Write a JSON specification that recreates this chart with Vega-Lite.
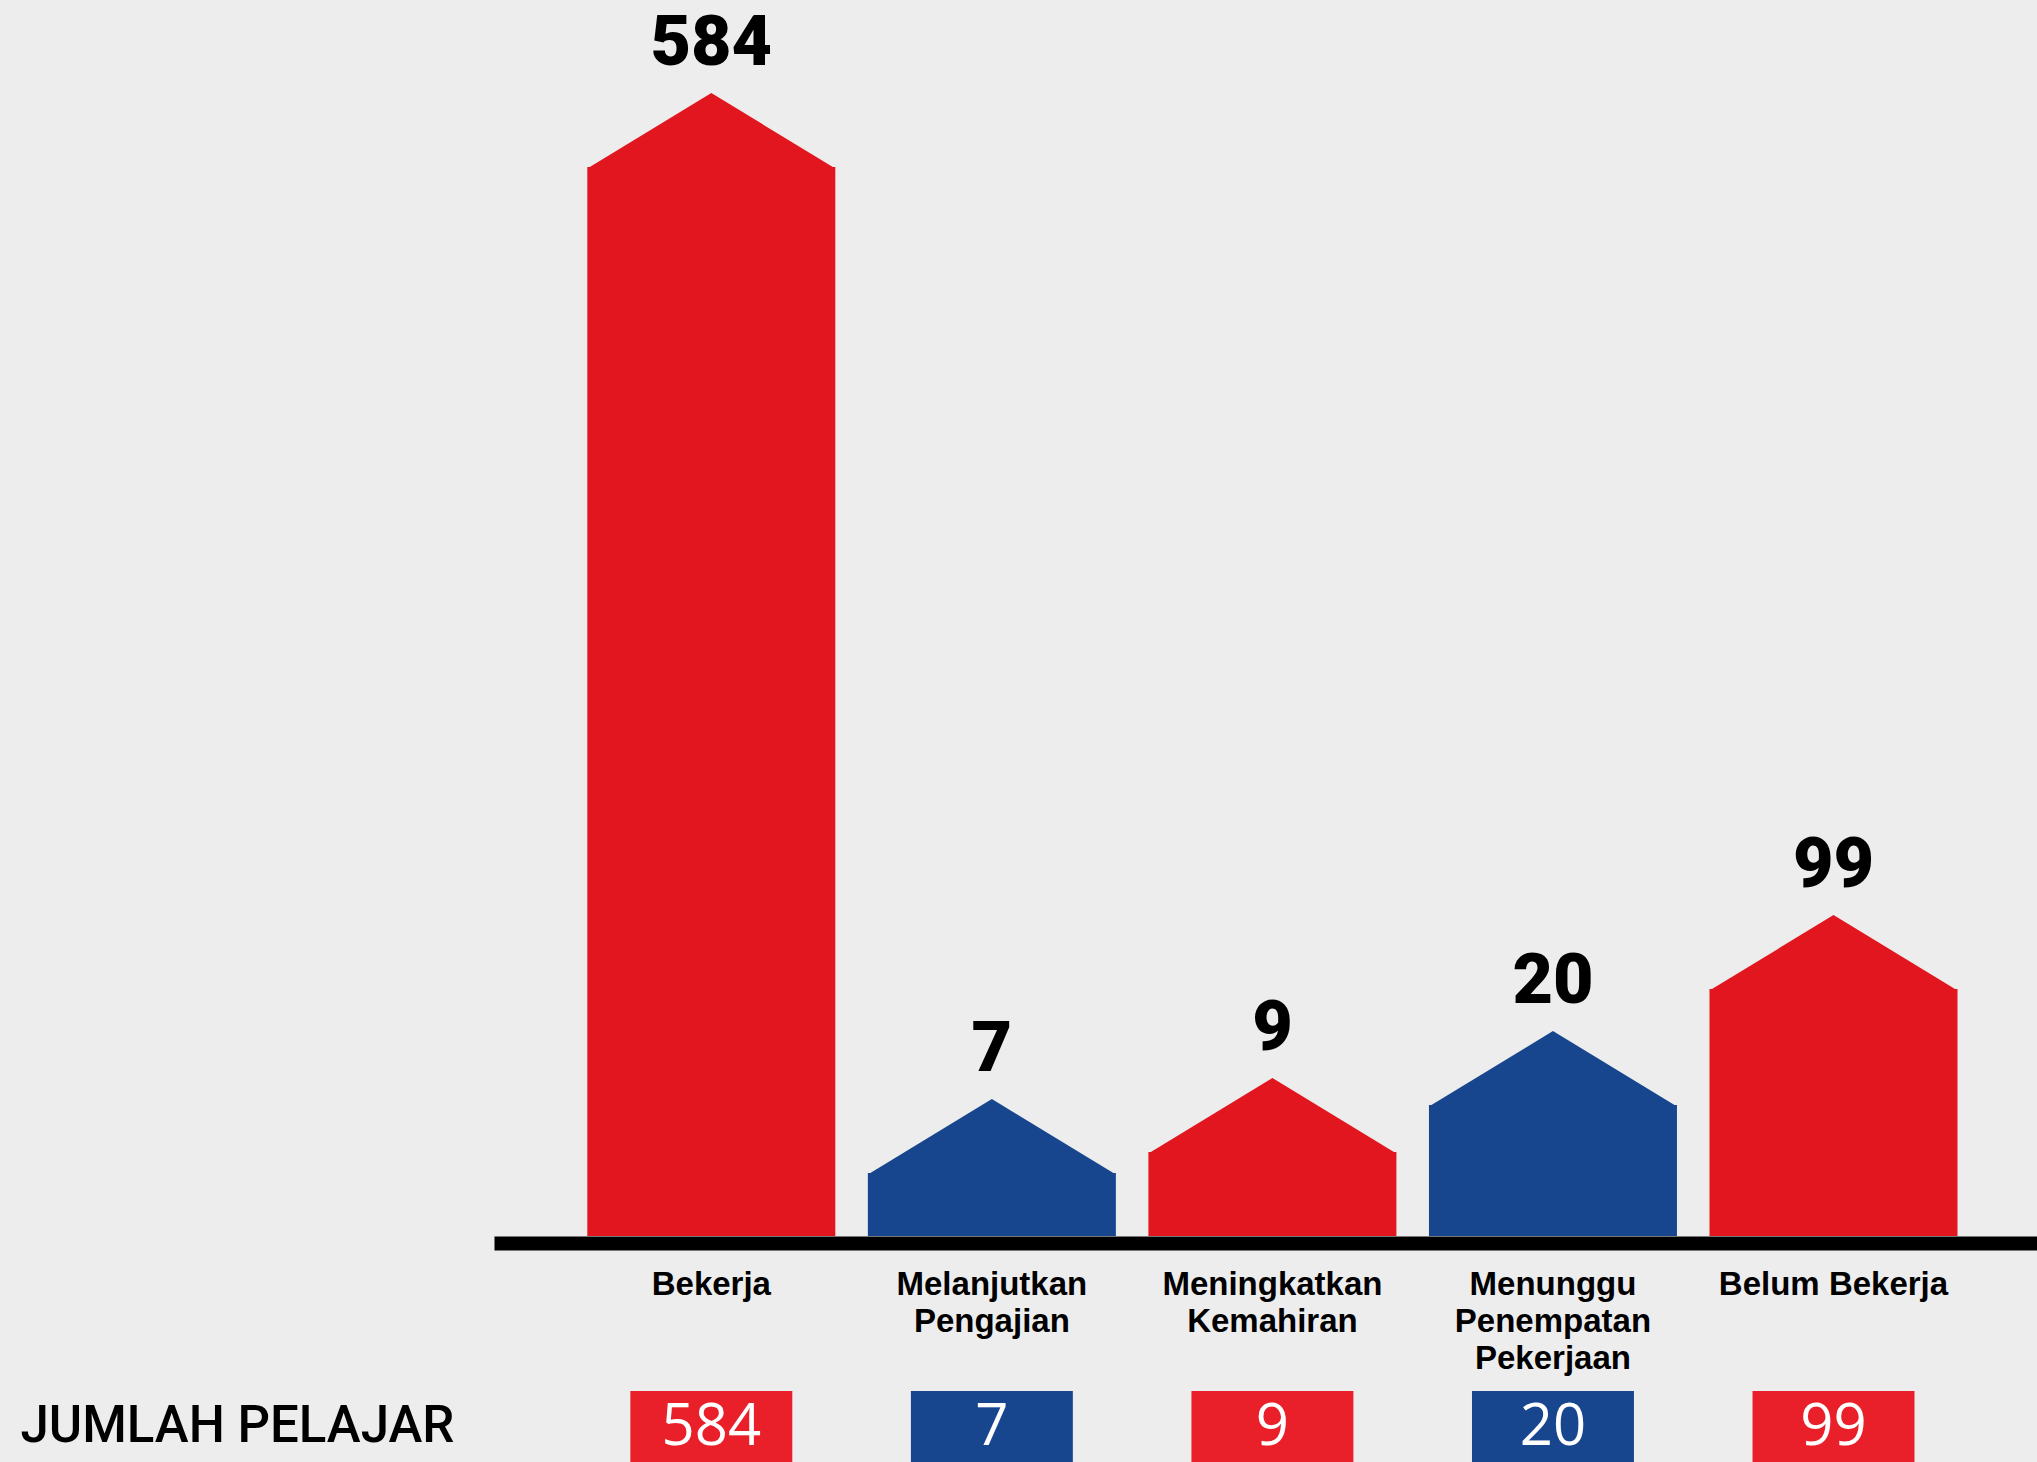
{
  "$schema": "https://vega.github.io/schema/vega-lite/v6.json",
  "background": "#EDEDEE",
  "padding": {"left": 20, "top": 0, "right": 0, "bottom": 0},
  "autosize": {"type": "pad"},
  "bounds": "flush",
  "spacing": 155,
  "config": {"view": {"stroke": null}, "font": "Open Sans"},
  "resolve": {"scale": {"color": "independent"}},
  "datasets": {
    "d": [
      {"kategori": "Bekerja", "jumlah": 584},
      {"kategori": "Melanjutkan Pengajian", "jumlah": 7},
      {"kategori": "Meningkatkan Kemahiran", "jumlah": 9},
      {"kategori": "Menunggu Penempatan Pekerjaan", "jumlah": 20},
      {"kategori": "Belum Bekerja", "jumlah": 99}
    ]
  },
  "vconcat": [
    {
      "width": 1543,
      "height": 1236,
      "data": {"name": "d"},
      "encoding": {
        "x": {
          "field": "kategori",
          "type": "nominal",
          "sort": null,
          "scale": {"paddingInner": 0.116, "paddingOuter": 0.308, "align": 0.54},
          "axis": {
            "title": null,
            "domain": true,
            "domainColor": "#000000",
            "domainWidth": 14,
            "offset": 7,
            "ticks": false,
            "tickSize": 0,
            "labelPadding": 25,
            "labelAngle": 0,
            "labelBaseline": "top",
            "labelFont": "Liberation Sans",
            "labelFontSize": 33,
            "labelFontWeight": "bold",
            "labelColor": "#000000",
            "labelLineHeight": 37,
            "labelLimit": 0,
            "labelExpr": "datum.label == 'Belum Bekerja' ? datum.label : split(datum.label, ' ')"
          }
        },
        "y": {
          "field": "jumlah",
          "type": "quantitative",
          "scale": {
            "domain": [0, 7, 9, 20, 99, 584],
            "range": [1236, 1173, 1152, 1105, 989, 167],
            "nice": false,
            "zero": false
          },
          "axis": null
        }
      },
      "layer": [
        {
          "mark": {"type": "bar"},
          "encoding": {
            "color": {
              "field": "kategori",
              "type": "nominal",
              "scale": {
                "domain": ["Bekerja", "Melanjutkan Pengajian", "Meningkatkan Kemahiran", "Menunggu Penempatan Pekerjaan", "Belum Bekerja"],
                "range": ["#E1161E", "#17468E", "#E1161E", "#17468E", "#E1161E"]
              },
              "legend": null
            }
          }
        },
        {
          "mark": {"type": "point", "shape": "M-1,0.012L0,-0.596L1,0.012Z", "size": 61504, "filled": true, "opacity": 1, "strokeWidth": 0},
          "encoding": {
            "color": {
              "field": "kategori",
              "type": "nominal",
              "scale": {
                "domain": ["Bekerja", "Melanjutkan Pengajian", "Meningkatkan Kemahiran", "Menunggu Penempatan Pekerjaan", "Belum Bekerja"],
                "range": ["#E1161E", "#17468E", "#E1161E", "#17468E", "#E1161E"]
              },
              "legend": null
            }
          }
        },
        {
          "mark": {"type": "text", "dy": -102, "baseline": "alphabetic", "align": "center", "font": "Roboto", "fontSize": 70, "fontWeight": 900, "color": "#000000"},
          "encoding": {"text": {"field": "jumlah", "type": "quantitative"}}
        }
      ]
    },
    {
      "width": 1543,
      "height": 71,
      "data": {"name": "d"},
      "encoding": {
        "x": {
          "field": "kategori",
          "type": "nominal",
          "sort": null,
          "scale": {"paddingInner": 0.116, "paddingOuter": 0.308, "align": 0.54},
          "axis": null
        },
        "y": {
          "datum": "JUMLAH PELAJAR",
          "type": "nominal",
          "scale": {"paddingInner": 0, "paddingOuter": 0},
          "axis": {
            "title": null,
            "domain": false,
            "ticks": false,
            "labelAlign": "left",
            "labelBaseline": "middle",
            "labelPadding": 474,
            "labelLimit": 0,
            "labelFont": "Roboto",
            "labelFontSize": 51,
            "labelFontWeight": 500,
            "labelColor": "#000000"
          }
        }
      },
      "layer": [
        {
          "mark": {"type": "bar", "width": {"band": 0.653}},
          "encoding": {
            "color": {
              "field": "kategori",
              "type": "nominal",
              "scale": {
                "domain": ["Bekerja", "Melanjutkan Pengajian", "Meningkatkan Kemahiran", "Menunggu Penempatan Pekerjaan", "Belum Bekerja"],
                "range": ["#E92029", "#17468E", "#E92029", "#17468E", "#E92029"]
              },
              "legend": null
            }
          }
        },
        {
          "mark": {"type": "text", "align": "center", "baseline": "middle", "dy": 1, "font": "Open Sans", "fontSize": 58, "fontWeight": 500, "color": "#FFFFFF"},
          "encoding": {"text": {"field": "jumlah", "type": "quantitative"}}
        }
      ]
    }
  ]
}
